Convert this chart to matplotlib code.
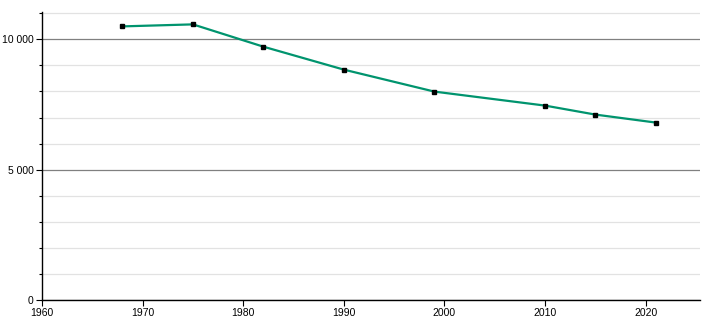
import matplotlib
matplotlib.use("Agg")
import matplotlib.pyplot as plt
from matplotlib.ticker import MultipleLocator, FuncFormatter

plt.rcParams['font.family'] = ['Liberation Sans', 'DejaVu Sans']

# Population data
annees = [1968, 1975, 1982, 1990, 1999, 2010, 2015, 2021]
population = [10498, 10575, 9720, 8839, 7996, 7459, 7114, 6808]

fig = plt.figure(figsize=(7.1, 3.2), dpi=100)
ax = fig.add_axes([42 / 710, 20 / 320, 658 / 710, 288 / 320])

ax.plot(annees, population, color='#00946e', linewidth=1.6, zorder=3)
ax.plot(annees, population, linestyle='none', marker='s', markersize=3.2,
        color='black', zorder=4)

ax.set_xlim(1960, 2025.4)
ax.set_ylim(0, 11050)

ax.xaxis.set_major_locator(MultipleLocator(10))
ax.yaxis.set_major_locator(MultipleLocator(5000))
ax.yaxis.set_minor_locator(MultipleLocator(1000))
ax.yaxis.set_major_formatter(FuncFormatter(lambda v, p: f"{int(v):,}".replace(",", " ")))

ax.grid(axis='y', which='major', color='#808080', linewidth=0.9, zorder=1)
ax.grid(axis='y', which='minor', color='#e2e2e2', linewidth=0.9, zorder=1)

for s in ['top', 'right']:
    ax.spines[s].set_visible(False)
for s in ['left', 'bottom']:
    ax.spines[s].set_color('black')
    ax.spines[s].set_linewidth(1.0)

ax.tick_params(axis='both', which='major', labelsize=7.5, length=4, width=0.8,
               direction='out', colors='black', pad=2)
ax.tick_params(axis='y', which='minor', length=2.5, width=0.8)

fig.savefig('out.png', dpi=100)
